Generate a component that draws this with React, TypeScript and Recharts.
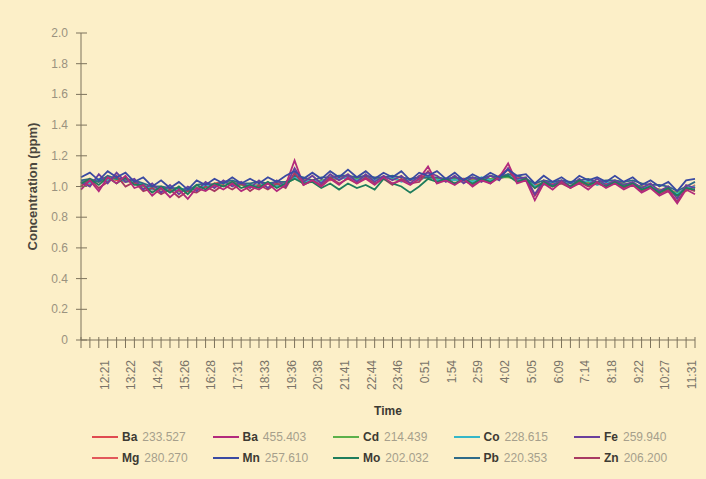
import React from 'react';
import { LineChart, Line, XAxis, YAxis } from 'recharts';

// Time labels shown on every third tick of the x axis
const timeLabels = ['12:21','13:22','14:24','15:26','16:28','17:31','18:33','19:36','20:38','21:41','22:44','23:46','0:51','1:54','2:59','4:02','5:05','6:09','7:14','8:18','9:22','10:27','11:31'];
const yTicks = [0, 0.2, 0.4, 0.6, 0.8, 1.0, 1.2, 1.4, 1.6, 1.8, 2.0];
const xTicks = Array.from({ length: 70 }, (_, i) => i);

const ba233 = [1.02,1.01,1.05,1.06,1.04,1.03,1.04,1.01,0.98,0.99, 0.97,0.98,0.97,0.99,1.00,1.02,1.03,1.01,1.02,1.00, 1.01,1.02,1.02,1.01,1.07,1.04,1.04,1.03,1.05,1.06, 1.05,1.06,1.05,1.04,1.06,1.05,1.04,1.05,1.06,1.07, 1.05,1.04,1.05,1.05,1.04,1.05,1.04,1.06,1.08,1.05, 1.04,0.99,1.02,1.03,1.02,1.03,1.02,1.03,1.02,1.03, 1.02,1.01,1.01,1.00,0.99,0.98,0.97,0.94,0.98,1.00];
const ba455 = [0.98,1.04,0.97,1.06,1.02,1.07,0.99,1.01,0.94,0.99, 0.93,0.98,0.92,0.99,0.97,1.01,0.98,1.02,0.97,1.00, 0.98,1.02,0.97,1.01,1.17,1.01,1.04,1.00,1.05,1.01, 1.06,1.02,1.05,1.01,1.06,1.02,1.04,1.01,1.05,1.13, 1.02,1.04,1.01,1.05,1.00,1.04,1.02,1.06,1.15,1.02, 1.04,0.91,1.02,0.98,1.03,0.99,1.02,0.98,1.03,0.99, 1.02,0.98,1.01,0.96,0.99,0.94,0.97,0.89,0.98,0.95];
const cd = [1.02,1.03,1.04,1.04,1.05,1.04,1.03,1.00,0.99,0.98, 0.98,0.97,0.98,0.99,1.00,1.01,1.02,1.02,1.01,1.00, 1.01,1.02,1.01,1.02,1.05,1.04,1.03,1.04,1.05,1.05, 1.06,1.05,1.05,1.05,1.06,1.05,1.04,1.05,1.05,1.06, 1.05,1.04,1.05,1.04,1.04,1.05,1.05,1.06,1.06,1.05, 1.04,1.00,1.02,1.03,1.02,1.02,1.03,1.03,1.02,1.03, 1.02,1.02,1.01,1.00,0.99,0.98,0.97,0.96,0.98,1.00];
const co = [1.03,1.02,1.05,1.04,1.06,1.03,1.04,1.01,0.98,0.99, 0.97,0.98,0.99,0.98,1.01,1.00,1.03,1.01,1.02,1.01, 1.00,1.03,1.00,1.02,1.06,1.03,1.04,1.03,1.06,1.05, 1.06,1.04,1.06,1.04,1.05,1.06,1.03,1.05,1.04,1.07, 1.04,1.05,1.04,1.05,1.03,1.06,1.04,1.05,1.08,1.04, 1.05,1.00,1.01,1.03,1.02,1.03,1.02,1.04,1.01,1.03, 1.02,1.01,1.02,0.99,1.00,0.97,0.98,0.95,0.99,1.00];
const fe = [1.03,1.00,1.08,1.02,1.09,1.03,1.05,0.98,1.02,0.96, 1.01,0.95,1.00,0.97,1.03,0.99,1.04,1.00,1.03,0.99, 1.04,0.99,1.04,1.00,1.12,1.03,1.07,1.02,1.08,1.04, 1.08,1.03,1.08,1.03,1.07,1.04,1.07,1.02,1.07,1.09, 1.07,1.03,1.07,1.02,1.06,1.03,1.07,1.04,1.12,1.05, 1.06,0.95,1.04,1.01,1.04,1.00,1.05,1.01,1.05,1.01, 1.04,1.01,1.03,0.99,1.02,0.97,1.00,0.92,1.01,0.99];
const mg = [1.03,1.04,1.03,1.05,1.06,1.04,1.02,1.00,1.00,0.98, 0.99,0.97,0.98,0.99,1.01,1.00,1.02,1.03,1.01,1.01, 1.00,1.02,1.01,1.03,1.05,1.05,1.03,1.04,1.04,1.06, 1.07,1.05,1.06,1.05,1.05,1.06,1.04,1.04,1.05,1.06, 1.05,1.05,1.04,1.04,1.05,1.04,1.05,1.05,1.07,1.06, 1.04,1.01,1.02,1.02,1.03,1.02,1.03,1.02,1.03,1.02, 1.03,1.02,1.01,1.00,1.00,0.98,0.98,0.96,0.97,1.01];
const mn = [1.06,1.09,1.04,1.10,1.06,1.09,1.03,1.06,1.00,1.04, 0.99,1.03,0.98,1.04,1.01,1.05,1.02,1.06,1.02,1.05, 1.02,1.06,1.03,1.07,1.10,1.05,1.09,1.05,1.10,1.06, 1.11,1.06,1.10,1.05,1.09,1.06,1.10,1.04,1.09,1.07, 1.10,1.05,1.09,1.04,1.08,1.05,1.09,1.06,1.11,1.07, 1.08,1.02,1.07,1.03,1.06,1.02,1.07,1.04,1.06,1.03, 1.07,1.03,1.06,1.01,1.04,1.00,1.03,0.97,1.04,1.05];
const mo = [1.02,1.05,1.01,1.06,1.02,1.06,1.01,1.01,0.96,1.00, 0.96,1.00,0.95,1.01,0.98,1.02,1.00,1.03,0.99,1.01, 0.99,1.03,0.99,1.02,1.05,1.02,1.03,0.99,1.02,0.98, 1.02,0.99,1.01,0.98,1.05,1.02,1.00,0.96,1.00,1.05, 1.03,1.05,1.02,1.05,1.02,1.05,1.03,1.06,1.07,1.03, 1.05,0.99,1.03,1.00,1.03,1.00,1.04,1.01,1.03,1.00, 1.03,1.00,1.02,0.98,1.00,0.96,0.99,0.94,0.99,0.98];
const pb = [1.04,1.05,1.03,1.07,1.05,1.05,1.04,1.02,1.00,1.00, 0.99,0.99,0.97,1.01,1.02,1.01,1.03,1.04,1.02,1.02, 1.03,1.02,1.03,1.03,1.07,1.06,1.04,1.06,1.06,1.07, 1.07,1.06,1.07,1.06,1.06,1.07,1.06,1.05,1.06,1.06, 1.06,1.05,1.06,1.05,1.06,1.05,1.07,1.06,1.08,1.07, 1.05,1.02,1.04,1.03,1.04,1.03,1.04,1.05,1.03,1.04, 1.04,1.03,1.04,1.02,1.01,1.01,1.00,0.97,1.00,1.03];
const zn = [1.00,1.05,0.99,1.03,1.07,1.00,1.03,0.97,0.99,0.95, 0.98,0.93,0.97,0.96,1.00,0.97,1.01,0.98,1.02,0.97, 1.01,0.98,1.02,0.99,1.09,1.01,1.04,1.01,1.06,1.02, 1.05,1.02,1.06,1.02,1.05,1.01,1.05,1.02,1.03,1.10, 1.02,1.05,1.02,1.04,1.01,1.05,1.02,1.07,1.11,1.03, 1.05,0.94,1.02,1.00,1.02,0.99,1.03,1.00,1.02,1.00, 1.03,0.99,1.02,0.97,1.00,0.95,0.98,0.90,0.99,0.97];

// legend order (2 rows x 5 columns)
const legendKeys = ['ba233', 'ba455', 'cd', 'co', 'fe', 'mg', 'mn', 'mo', 'pb', 'zn'];
const elements = ['Ba', 'Ba', 'Cd', 'Co', 'Fe', 'Mg', 'Mn', 'Mo', 'Pb', 'Zn'];
const wavelengths = ['233.527', '455.403', '214.439', '228.615', '259.940', '280.270', '257.610', '202.032', '220.353', '206.200'];
const colors: Record<string, string> = {
  ba233: '#e04a50',
  ba455: '#b32a7c',
  cd: '#5cb04a',
  co: '#35b7c8',
  fe: '#6a3f9c',
  mg: '#e2585a',
  mn: '#3a4aa2',
  mo: '#1f7d5c',
  pb: '#2f6a88',
  zn: '#a83a62',
};
// drawing order (last on top)
const drawOrder = ['ba233', 'mg', 'cd', 'co', 'pb', 'zn', 'fe', 'mo', 'ba455', 'mn'];

const seriesValues: Record<string, number[]> = { ba233, ba455, cd, co, fe, mg, mn, mo, pb, zn };
const data = ba233.map((_, i) => {
  const row: Record<string, number> = { t: i };
  legendKeys.forEach((k) => { row[k] = seriesValues[k][i]; });
  return row;
});

const BG = '#fcefc8';
const AXIS = '#7d735c';
const FONT = '"Liberation Sans", Arial, sans-serif';

const XTick = (props: any) => {
  const { x, y, payload } = props;
  const axisY = y - 20;
  const v = payload.value as number;
  const lbl = v > 0 && v % 3 === 0 ? timeLabels[v / 3 - 1] : null;
  return (
    <g>
      <line x1={x} x2={x} y1={axisY - 3} y2={axisY + 8} stroke={AXIS} strokeWidth={1} />
      {lbl && (
        <text x={x + 1} y={y} transform={`rotate(-90 ${x + 1} ${y})`} textAnchor="end" fontSize={12} fill="#7a7468" fontFamily={FONT}>
          {lbl}
        </text>
      )}
    </g>
  );
};

const YTick = (props: any) => {
  const { x, y, payload } = props;
  const axisX = x + 13;
  const v = payload.value as number;
  return (
    <g>
      <line x1={axisX - 5} x2={axisX + 6} y1={y} y2={y} stroke={AXIS} strokeWidth={1} />
      <text x={x} y={y} dy={4} textAnchor="end" fontSize={12} fill="#9a927f" fontFamily={FONT}>
        {v === 0 ? '0' : v.toFixed(1)}
      </text>
    </g>
  );
};

export default function App() {
  return (
    <div style={{ position: 'absolute', left: 0, top: 0, width: 706, height: 479, background: BG, fontFamily: FONT }}>
      <LineChart width={706} height={479} data={data} margin={{ top: 33, right: 11, bottom: 64, left: 21 }}>
        <XAxis
          dataKey="t"
          type="number"
          domain={[0, 69]}
          ticks={xTicks}
          interval={0}
          tick={<XTick />}
          tickLine={false}
          tickSize={8}
          tickMargin={12}
          height={75}
          axisLine={{ stroke: AXIS, strokeWidth: 1 }}
          label={{ value: 'Time', position: 'insideBottom', offset: 0, style: { fontSize: 12, fontWeight: 'bold', fill: '#3d3a33', fontFamily: FONT } }}
        />
        <YAxis
          type="number"
          domain={[0, 2]}
          ticks={yTicks}
          interval={0}
          tick={<YTick />}
          tickLine={false}
          tickSize={5}
          tickMargin={8}
          width={60}
          axisLine={{ stroke: AXIS, strokeWidth: 1 }}
          label={{
            content: (p: any) => {
              const vb = p.viewBox || { x: 21, y: 33, width: 60, height: 307 };
              const cx = vb.x + 11;
              const cy = vb.y + vb.height / 2;
              return (
                <text x={cx} y={cy} transform={`rotate(-90 ${cx} ${cy})`} textAnchor="middle" dominantBaseline="central" fontSize={13} fontWeight="bold" fill="#4a463d" fontFamily={FONT}>
                  Concentration (ppm)
                </text>
              );
            },
          }}
        />
        {drawOrder.map((k) => (
          <Line key={k} dataKey={k} type="linear" stroke={colors[k]} strokeWidth={1.8} dot={false} isAnimationActive={false} />
        ))}
      </LineChart>
      {legendKeys.map((k, i) => {
        const col = i % 5;
        const row = Math.floor(i / 5);
        return (
          <div
            key={k}
            style={{ position: 'absolute', left: 92 + col * 120.5, top: 429 + row * 21, height: 16, display: 'flex', alignItems: 'center', whiteSpace: 'nowrap' }}
          >
            <div style={{ width: 26, height: 2, background: colors[k], marginRight: 4 }} />
            <span style={{ fontSize: 12, fontWeight: 'bold', color: '#3d3a33', marginRight: 5 }}>{elements[i]}</span>
            <span style={{ fontSize: 12, color: '#a69f8c' }}>{wavelengths[i]}</span>
          </div>
        );
      })}
    </div>
  );
}
